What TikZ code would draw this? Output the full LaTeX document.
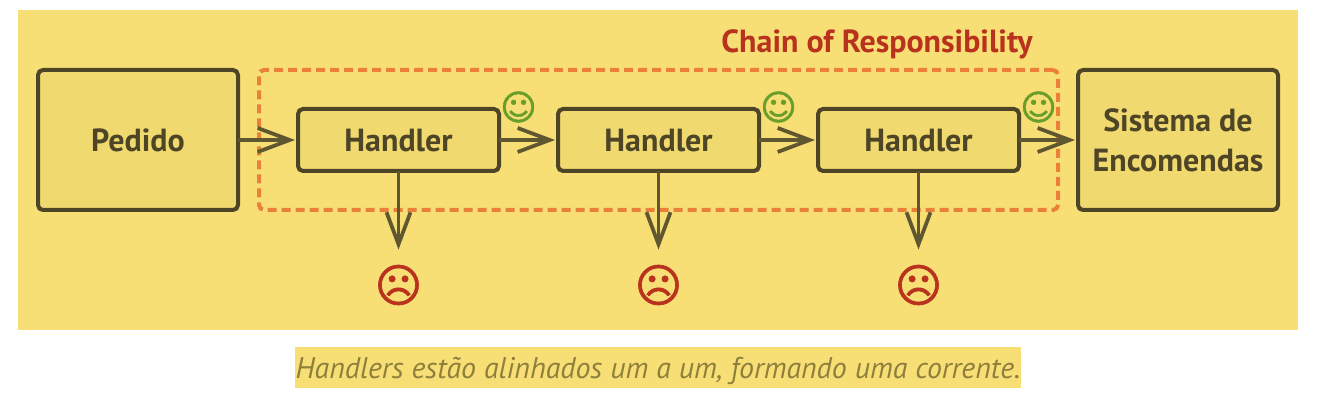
\documentclass[tikz,border=0pt]{standalone}
\usepackage{fontspec}
\setmainfont{PT Sans}
\newfontfamily\symfont[FakeBold=1.4]{DejaVu Sans}
\usepackage{tikz}
\usetikzlibrary{arrows.meta,positioning,fit,calc}
\definecolor{panelyellow}{HTML}{F7DF75}
\definecolor{boxyellow}{HTML}{F0DA70}
\definecolor{boxline}{HTML}{4D4526}
\definecolor{arrowline}{HTML}{5F5730}
\definecolor{chainorange}{HTML}{EA8039}
\definecolor{sadred}{HTML}{B8321D}
\definecolor{happygreen}{HTML}{6A9E2B}
\definecolor{captiontext}{HTML}{8F7F3C}

\begin{document}
\begin{tikzpicture}[
  node distance=12mm and 11.8mm,
  panel/.style={fill=panelyellow, minimum width=256mm, minimum height=64mm, inner sep=0pt},
  bigbox/.style={draw=boxline, fill=boxyellow, line width=.8mm, rounded corners=1mm, align=center, outer sep=0pt,
    minimum width=40mm, minimum height=28mm, text=boxline, text depth=0pt, font=\fontsize{18.2}{22.7}\selectfont\bfseries},
  handler/.style={bigbox, minimum width=40.2mm, minimum height=12.4mm},
  chain/.style={draw=chainorange, line width=.8mm, rounded corners=1mm, dash pattern=on 1.8mm off 1mm, inner sep=7.8mm},
  happy/.style={text=happygreen, inner sep=0pt, font=\symfont\fontsize{20}{20}\selectfont},
  sad/.style={text=sadred, inner sep=0pt, minimum height=8mm, font=\symfont\fontsize{26}{26}\selectfont},
  arr/.style={-{Straight Barb[length=6.4mm, width=4.8mm]}, draw=arrowline, line width=.75mm, shorten >=.6mm}
]
\useasboundingbox (0,0) rectangle (26.48,8.32);
\node[panel] (back) at (13.16,4.92) {};
\node[bigbox] (pedido) at (2.76,5.52) {Pedido};
\node[handler, right=12mm of pedido] (h1) {Handler};
\node[handler, right=of h1] (h2) {Handler};
\node[handler, right=of h2] (h3) {Handler};
\node[bigbox, right=of h3] (sistema) {Sistema de\\Encomendas};
\node[chain, fit=(h1)(h3)] (group) {};
\node[text=sadred, font=\fontsize{18.2}{20}\selectfont\bfseries] (title) at (17.54,7.44) {Chain of Responsibility};
\node[happy] (ok1) at ($(h1.north east)+(3.9mm,.4mm)$) {☺};
\node[happy] (ok2) at ($(h2.north east)+(3.9mm,.4mm)$) {☺};
\node[happy] (ok3) at ($(h3.north east)+(3.9mm,.4mm)$) {☺};
\node[sad] (bad1) at ($(h1)+(0,-29mm)$) {☹};
\node[sad] (bad2) at ($(h2)+(0,-29mm)$) {☹};
\node[sad] (bad3) at ($(h3)+(0,-29mm)$) {☹};
\node[fill=panelyellow, text=captiontext, minimum width=145.2mm, minimum height=8.2mm, inner sep=0pt, text height=5mm, text depth=.4mm,
  font=\fontsize{17}{20}\selectfont\itshape] (caption) at (13.16,.97) {Handlers estão alinhados um a um, formando uma corrente.};
\draw[arr] (pedido)--(h1);
\draw[arr] (h1)--(h2);
\draw[arr] (h2)--(h3);
\draw[arr] (h3)--(sistema);
\draw[arr, shorten >=3mm] (h1)--(bad1);
\draw[arr, shorten >=3mm] (h2)--(bad2);
\draw[arr, shorten >=3mm] (h3)--(bad3);
\end{tikzpicture}
\end{document}
